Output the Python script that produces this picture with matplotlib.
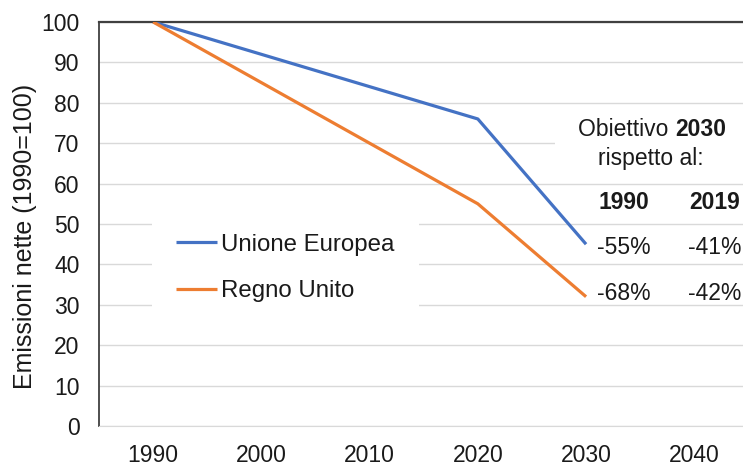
import matplotlib.pyplot as plt
from matplotlib.patches import Rectangle

plt.rcParams['font.family'] = ['Liberation Sans', 'DejaVu Sans']

# dati (indice 1990 = 100)
years = [1990, 2020, 2030]
ue = [100, 76, 45]
uk = [100, 55, 32]
x_ticks = [1990, 2000, 2010, 2020, 2030, 2040]

# obiettivi 2030 rispetto al 1990 e al 2019
col_heads = ["1990", "2019"]
target_ue = ["-55%", "-41%"]
target_uk = ["-68%", "-42%"]

fs = 16.5
txt_col = '#1a1a1a'

fig = plt.figure(figsize=(7.43, 4.66), dpi=100)
ax = fig.add_axes([99/743, 40/466, 644/743, 404/466])

ax.plot(years, ue, color='#4472C4', lw=2.3, label='Unione Europea', zorder=4, solid_capstyle='butt')
ax.plot(years, uk, color='#ED7D31', lw=2.3, label='Regno Unito', zorder=4, solid_capstyle='butt')

ax.set_xlim(1985, 2044.5)
ax.set_ylim(0, 100)
ax.set_xticks(x_ticks)
ax.set_yticks(range(0, 101, 10))
ax.grid(axis='y', color='#d9d9d9', lw=1, zorder=0)
ax.set_axisbelow(True)
ax.tick_params(length=0, labelsize=fs, colors=txt_col)
ax.tick_params(axis='y', pad=14)
ax.tick_params(axis='x', pad=13)

ax.spines['right'].set_visible(False)
ax.spines['bottom'].set_color('#d9d9d9')
ax.spines['top'].set_color('#404040')
ax.spines['top'].set_linewidth(1.6)
ax.spines['left'].set_color('#404040')
ax.spines['left'].set_linewidth(1.3)

ax.set_ylabel('Emissioni nette (1990=100)', fontsize=18, color=txt_col)
ax.yaxis.set_label_coords(-0.097, 0.468)

leg = ax.legend(loc='upper left', bbox_to_anchor=(0.082, 0.535), fontsize=17.3,
                frameon=True, fancybox=False, borderpad=1.0, borderaxespad=0,
                handlelength=1.7, handletextpad=0.2, labelspacing=1.0)
leg.get_frame().set_facecolor('white')
leg.get_frame().set_edgecolor('none')
leg.get_frame().set_alpha(1)
for t in leg.get_texts():
    t.set_color(txt_col)

# riquadro bianco dietro il titolo della tabellina
ax.add_patch(Rectangle((2027.1, 61.4), 20, 17.3, facecolor='white', edgecolor='none', zorder=2))

t1 = ax.text(2029.3, 73.3, "Obiettivo ", fontsize=fs, color=txt_col, ha='left', va='center', zorder=5)
ax.annotate("2030", xy=(1, 0), xycoords=t1, va='bottom', ha='left', fontsize=fs,
            fontweight='bold', color=txt_col, zorder=5)
ax.text(2036.0, 66.3, "rispetto al:", fontsize=fs, color=txt_col, ha='center', va='center', zorder=5)

col_x = [2033.5, 2041.9]
for i in range(2):
    ax.text(col_x[i], 55.2, col_heads[i], fontsize=fs, fontweight='bold', color=txt_col,
            ha='center', va='center', zorder=5)
    ax.text(col_x[i], 44.1, target_ue[i], fontsize=fs, color=txt_col, ha='center', va='center', zorder=5)
    ax.text(col_x[i], 32.9, target_uk[i], fontsize=fs, color=txt_col, ha='center', va='center', zorder=5)

fig.savefig('out.png', dpi=100)
